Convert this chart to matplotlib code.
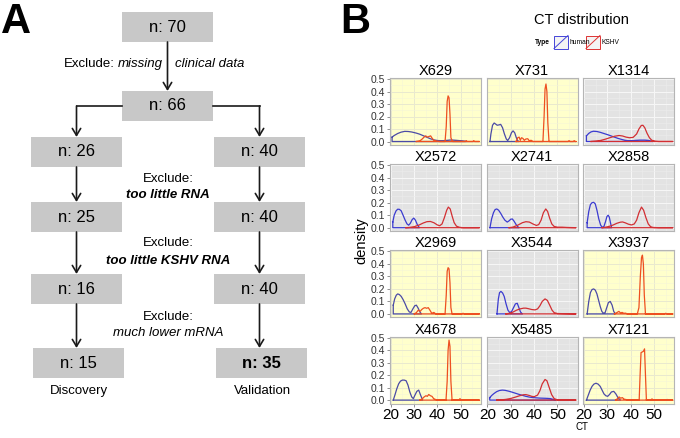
import numpy as np
import matplotlib
matplotlib.use("Agg")
import matplotlib.pyplot as plt
from matplotlib.patches import Rectangle

plt.rcParams['font.family'] = ['Liberation Sans', 'DejaVu Sans']

# ---- panel A data (sample counts) ----
top_n = [70, 66]
discovery_n = [26, 25, 16, 15]
validation_n = [40, 40, 40, 35]

# ---- panel B data: CT density per sample ----
samples = ["X629", "X731", "X1314",
           "X2572", "X2741", "X2858",
           "X2969", "X3544", "X3937",
           "X4678", "X5485", "X7121"]
highlighted = ["X629", "X731", "X2969", "X3937", "X4678", "X7121"]

human_ct = {
    "X629": [20.6, 21.5, 23, 24.5, 26, 27.5, 29, 31, 32.5, 34, 35.5, 37, 38.5, 40, 42, 44, 45.5, 47, 49, 51, 52.5],
    "X731": [21.1, 21.5, 22.2, 22.9, 23.5, 24.2, 25, 25.7, 26.5, 27.3, 28.1, 28.7, 29.5, 30.3, 31, 31.7, 32.4, 33, 33.5],
    "X1314": [21, 22, 23, 24, 25.5, 27, 28.5, 30, 31.5, 33, 34.5, 36, 37.5, 39, 40.5, 42, 44, 46, 47.5, 48.5, 49.5],
    "X2572": [20.9, 21.5, 22.3, 23, 23.7, 24.5, 25.3, 26.2, 27, 27.7, 28.4, 29.2, 29.9, 30.6, 31.4, 32.3],
    "X2741": [21.1, 21.8, 22.6, 23.3, 24, 24.8, 25.7, 26.6, 27.5, 28.5, 29.3, 30, 30.7, 31.5, 32.3, 33, 33.6],
    "X2858": [21.3, 22, 22.7, 23.4, 24.1, 24.8, 25.5, 26.3, 27.1, 27.8, 28.5, 29.2, 29.8, 30.3, 30.8, 31.3, 31.8],
    "X2969": [21.1, 21.7, 22.4, 23, 23.7, 24.5, 25.3, 26.2, 27.1, 28, 28.7, 29.5, 30.3, 31, 31.8, 32.5, 33.2],
    "X3544": [24.1, 24.7, 25.2, 25.8, 26.5, 27.2, 28, 28.8, 29.6, 30.4, 31.2, 32, 32.8, 33.5, 34.2, 35],
    "X3937": [21.3, 22, 22.7, 23.4, 24.1, 24.8, 25.5, 26.2, 26.9, 27.6, 28.3, 29, 29.7, 30.4, 31.2, 32, 32.7, 33.4],
    "X4678": [21.1, 21.8, 22.6, 23.4, 24.2, 25, 25.8, 26.6, 27.4, 28.2, 29, 29.7, 30.4, 31.2, 32, 32.8, 33.7],
    "X5485": [21, 22, 23, 24, 25.2, 26.4, 27.6, 29, 30.5, 32, 33.5, 35, 36.5, 38, 39.5, 41, 42.5, 44, 45.5, 47, 48.2, 49.3],
    "X7121": [21, 21.8, 22.6, 23.4, 24.2, 25.1, 26, 26.9, 27.7, 28.5, 29.3, 30.1, 30.9, 31.7, 32.7, 33.6, 34.5, 35.6],
}
human_dens = {
    "X629": [0.035, 0.048, 0.064, 0.075, 0.081, 0.08, 0.076, 0.067, 0.058, 0.046, 0.034, 0.022, 0.013, 0.008, 0.006, 0.009, 0.012, 0.011, 0.008, 0.004, 0],
    "X731": [0, 0.06, 0.13, 0.148, 0.14, 0.13, 0.133, 0.137, 0.11, 0.06, 0.02, 0.008, 0.03, 0.07, 0.085, 0.07, 0.03, 0.005, 0],
    "X1314": [0.045, 0.065, 0.077, 0.082, 0.08, 0.073, 0.064, 0.055, 0.045, 0.035, 0.025, 0.017, 0.01, 0.006, 0.006, 0.009, 0.011, 0.011, 0.009, 0.004, 0],
    "X2572": [0.045, 0.1, 0.135, 0.148, 0.147, 0.135, 0.1, 0.06, 0.03, 0.02, 0.035, 0.065, 0.077, 0.06, 0.025, 0],
    "X2741": [0, 0.07, 0.12, 0.145, 0.15, 0.14, 0.115, 0.085, 0.06, 0.045, 0.055, 0.068, 0.07, 0.05, 0.025, 0.008, 0],
    "X2858": [0.04, 0.13, 0.185, 0.2, 0.203, 0.19, 0.14, 0.07, 0.02, 0.003, 0.01, 0.05, 0.09, 0.1, 0.085, 0.04, 0],
    "X2969": [0.07, 0.12, 0.15, 0.16, 0.155, 0.14, 0.115, 0.08, 0.04, 0.015, 0.012, 0.04, 0.065, 0.07, 0.045, 0.015, 0],
    "X3544": [0, 0.12, 0.17, 0.18, 0.168, 0.14, 0.08, 0.03, 0.01, 0.02, 0.05, 0.08, 0.085, 0.05, 0.015, 0],
    "X3937": [0, 0.1, 0.17, 0.195, 0.2, 0.19, 0.16, 0.11, 0.06, 0.02, 0.005, 0.01, 0.05, 0.09, 0.1, 0.07, 0.02, 0],
    "X4678": [0, 0.04, 0.09, 0.13, 0.152, 0.16, 0.16, 0.155, 0.12, 0.065, 0.025, 0.012, 0.04, 0.07, 0.08, 0.04, 0],
    "X5485": [0.02, 0.04, 0.055, 0.068, 0.077, 0.08, 0.078, 0.072, 0.064, 0.055, 0.046, 0.038, 0.03, 0.024, 0.02, 0.018, 0.016, 0.015, 0.014, 0.012, 0.006, 0],
    "X7121": [0, 0.04, 0.08, 0.11, 0.128, 0.135, 0.128, 0.11, 0.08, 0.05, 0.035, 0.03, 0.045, 0.065, 0.07, 0.05, 0.02, 0],
}

kshv_ct = {
    "X629": [31, 32.5, 33.5, 34.3, 35, 35.7, 36.4, 37.1, 37.8, 38.5, 39.5, 41, 43.3, 43.8, 44.2, 44.6, 45, 45.4, 45.8, 46.5, 52, 52.4, 52.8, 55.2, 55.6, 56, 58],
    "X731": [32.3, 33, 33.6, 34.1, 34.6, 35.2, 35.8, 36.5, 37.3, 38, 38.7, 39.5, 43.8, 44.3, 44.7, 45.1, 45.5, 45.9, 46.4, 54.5, 55, 55.5, 56.8, 57.2, 57.6, 58],
    "X1314": [23, 25, 27, 29, 31, 33, 35, 36.5, 38, 39.5, 41, 42.5, 43.5, 44.5, 45.2, 46, 47, 48, 49, 50.5, 52, 58],
    "X2572": [26.5, 28, 30, 32, 34, 35.5, 37, 38.5, 40, 41, 42, 43, 44, 44.7, 45.5, 46.3, 47.2, 48.2, 49.5, 51, 58],
    "X2741": [29.3, 31, 33, 35, 36.5, 38, 39.5, 41, 42, 43, 44, 45, 45.8, 46.7, 47.6, 48.6, 50, 52, 54, 56, 58],
    "X2858": [27.7, 29.5, 31, 32.5, 34, 35.5, 36.5, 37.5, 39, 40.3, 41.5, 42.5, 43.5, 44.6, 45.5, 46.5, 47.5, 48.5, 49.5, 52, 58],
    "X2969": [30.1, 31, 31.8, 32.6, 33.3, 34, 34.7, 35.4, 36.1, 36.8, 37.6, 38.5, 39.3, 40, 43.3, 43.8, 44.2, 44.6, 45, 45.4, 45.8, 46.3, 50.5, 51, 51.5, 58],
    "X3544": [27.9, 29.5, 31, 32.5, 34, 35.5, 36.5, 37.5, 39, 40.4, 41.5, 42.5, 43.5, 44.7, 45.7, 46.7, 47.7, 48.6, 50, 52, 55, 58],
    "X3937": [33, 34, 34.9, 35.6, 36.3, 37, 37.8, 38.5, 39.5, 42.8, 43.5, 44.1, 44.6, 45, 45.4, 45.8, 46.3, 54.5, 55, 55.5, 58],
    "X4678": [32.5, 33.5, 34.3, 35.1, 35.7, 36.3, 37, 37.7, 38.4, 39.2, 40, 43.7, 44.2, 44.6, 45, 45.4, 45.8, 46.3, 49.3, 49.7, 50.1, 58],
    "X5485": [24, 26, 28, 30, 32, 34, 35.5, 36.5, 38, 39, 40, 41.5, 42.5, 43.5, 44.7, 45.5, 46.5, 47.5, 48.6, 50, 58],
    "X7121": [33.5, 34.2, 35, 35.7, 36.4, 37.1, 37.8, 38.5, 39.5, 43.6, 44, 44.4, 44.9, 45.4, 45.9, 46.3, 46.7, 48.7, 49.1, 49.5, 55.2, 55.6, 56, 58],
}
kshv_dens = {
    "X629": [0, 0.005, 0.02, 0.035, 0.045, 0.035, 0.04, 0.045, 0.025, 0.01, 0.003, 0, 0, 0.12, 0.32, 0.365, 0.35, 0.22, 0.03, 0, 0, 0.006, 0, 0, 0.006, 0, 0],
    "X731": [0, 0.03, 0.035, 0.01, 0.03, 0.025, 0.01, 0.02, 0.022, 0.005, 0.01, 0, 0, 0.2, 0.42, 0.46, 0.4, 0.15, 0, 0, 0.006, 0, 0, 0.006, 0, 0],
    "X1314": [0, 0.003, 0.008, 0.018, 0.03, 0.042, 0.048, 0.044, 0.035, 0.03, 0.033, 0.06, 0.1, 0.128, 0.13, 0.11, 0.065, 0.03, 0.01, 0.002, 0, 0],
    "X2572": [0, 0.002, 0.008, 0.02, 0.038, 0.048, 0.05, 0.04, 0.022, 0.016, 0.03, 0.08, 0.14, 0.165, 0.15, 0.095, 0.04, 0.012, 0.003, 0, 0],
    "X2741": [0, 0.005, 0.02, 0.04, 0.048, 0.045, 0.03, 0.018, 0.025, 0.06, 0.12, 0.15, 0.13, 0.075, 0.03, 0.01, 0.004, 0.004, 0.002, 0.001, 0],
    "X2858": [0, 0.005, 0.012, 0.022, 0.035, 0.044, 0.046, 0.04, 0.028, 0.022, 0.03, 0.06, 0.12, 0.165, 0.14, 0.08, 0.03, 0.008, 0.002, 0, 0],
    "X2969": [0, 0.01, 0.03, 0.02, 0.035, 0.045, 0.05, 0.045, 0.05, 0.03, 0.005, 0.012, 0, 0, 0, 0.15, 0.34, 0.37, 0.36, 0.25, 0.05, 0, 0, 0.005, 0, 0],
    "X3544": [0, 0.005, 0.015, 0.03, 0.04, 0.046, 0.046, 0.042, 0.035, 0.032, 0.04, 0.065, 0.1, 0.12, 0.108, 0.07, 0.03, 0.01, 0.003, 0.002, 0.001, 0],
    "X3937": [0, 0.01, 0.02, 0.008, 0.012, 0.005, 0.006, 0, 0, 0, 0.05, 0.3, 0.45, 0.47, 0.4, 0.15, 0, 0, 0.005, 0, 0],
    "X4678": [0, 0.01, 0.025, 0.035, 0.03, 0.045, 0.035, 0.03, 0.012, 0.005, 0, 0, 0.15, 0.4, 0.48, 0.43, 0.15, 0, 0, 0.012, 0, 0],
    "X5485": [0, 0.002, 0.006, 0.013, 0.024, 0.036, 0.043, 0.044, 0.037, 0.03, 0.027, 0.04, 0.075, 0.13, 0.165, 0.155, 0.1, 0.045, 0.012, 0.002, 0],
    "X7121": [0, 0.01, 0.025, 0.015, 0.02, 0.008, 0.005, 0.003, 0, 0, 0.2, 0.38, 0.385, 0.39, 0.41, 0.2, 0, 0, 0.01, 0, 0, 0.005, 0, 0],
}

W, H = 680, 438
fig = plt.figure(figsize=(W / 100, H / 100), dpi=100)


def px_axes(left, top, width, height):
    return fig.add_axes([left / W, 1 - (top + height) / H, width / W, height / H])


# overlay for the flowchart and free text, in pixel coordinates
ov = px_axes(0, 0, W, H)
ov.set_xlim(0, W)
ov.set_ylim(H, 0)
ov.axis("off")

ov.text(1, 22, "A", fontsize=30, fontweight="bold", va="center", ha="left")
ov.text(340, 22, "B", fontsize=30, fontweight="bold", va="center", ha="left")

box_col = "#C8C8C8"
arrow_kw = dict(arrowstyle="->,head_length=0.5,head_width=0.3", lw=1.2,
                color="#1a1a1a", shrinkA=0, shrinkB=0)


def box(cx, top, text, bold=False):
    ov.add_patch(Rectangle((cx - 45.5, top), 91, 30, facecolor=box_col, edgecolor="none"))
    ov.text(cx, top + 15, text, fontsize=12, ha="center", va="center",
            fontweight="bold" if bold else "normal")


def arrow(x0, y0, x1, y1):
    ov.annotate("", xy=(x1, y1), xytext=(x0, y0), arrowprops=arrow_kw)


box(167.5, 12, f"n: {top_n[0]}")
box(167.5, 91, f"n: {top_n[1]}")
arrow(167.5, 42, 167.5, 91)
ov.text(64, 64, "Exclude:", fontsize=9.5, ha="left", va="center")
ov.text(163, 64, "missing", fontsize=9.5, style="italic", ha="right", va="center")
ov.text(175, 64, "clinical data", fontsize=9.5, style="italic", ha="left", va="center")

lx, rx = 76.5, 259.5
ov.plot([122, lx], [106, 106], color="#1a1a1a", lw=1.2)
ov.plot([213, rx], [106, 106], color="#1a1a1a", lw=1.2)
arrow(lx, 106, lx, 137)
arrow(rx, 106, rx, 137)

row_tops = [137, 202, 274, 348]
for i, (dn, vn) in enumerate(zip(discovery_n, validation_n)):
    shift = 2 if i == 3 else 0
    box(lx + shift, row_tops[i], f"n: {dn}")
    box(rx + shift, row_tops[i], f"n: {vn}", bold=(i == 3))
    if i < 3:
        arrow(lx, row_tops[i] + 30, lx, row_tops[i + 1])
        arrow(rx, row_tops[i] + 30, rx, row_tops[i + 1])

ov.text(168, 179, "Exclude:", fontsize=9.5, ha="center", va="center")
ov.text(168, 195, "too little RNA", fontsize=9.5, ha="center", va="center",
        style="italic", fontweight="bold")
ov.text(168, 243, "Exclude:", fontsize=9.5, ha="center", va="center")
ov.text(168, 261, "too little KSHV RNA", fontsize=9.5, ha="center", va="center",
        style="italic", fontweight="bold")
ov.text(168, 317, "Exclude:", fontsize=9.5, ha="center", va="center")
ov.text(168, 333, "much lower mRNA", fontsize=9.5, ha="center", va="center", style="italic")
ov.text(79, 391, "Discovery", fontsize=9.5, ha="center", va="center")
ov.text(263, 391, "Validation", fontsize=9.5, ha="center", va="center")

# title and legend of panel B
ov.text(581, 20, "CT distribution", fontsize=10.5, ha="center", va="center")
ov.text(550, 42, "Type", fontsize=4.8, fontweight="bold", ha="right", va="center")
for x0, col, lab in [(554, "#4545D8", "human"), (586, "#DD3333", "KSHV")]:
    ov.add_patch(Rectangle((x0, 35.5), 14, 13, facecolor="#F4F4F4", edgecolor=col, lw=0.7))
    ov.plot([x0, x0 + 14], [48.5, 35.5], color=col, lw=0.7)
    ov.text(x0 + 15.5, 42, lab, fontsize=4.8, ha="left", va="center")

ov.text(361, 241, "density", fontsize=10.5, rotation=90, ha="center", va="center")
ov.text(582, 427, "CT", fontsize=7, ha="center", va="center")

# facet panels
xlim = (19.7, 58.7)
ylim = (-0.028, 0.508)
for idx, name in enumerate(samples):
    r, c = divmod(idx, 3)
    left = 390 + 96.7 * c
    top = 78 + 86.2 * r
    ax = px_axes(left, top, 91, 67)
    hl = name in highlighted
    if hl:
        bg, gmaj, gmin = "#FFFFCC", "#E9E9CF", "#F5F5D8"
        col_h, col_k = "#4B4BA6", "#EE5020"
    else:
        bg, gmaj, gmin = "#E3E3E3", "#F7F7F7", "#EDEDED"
        col_h, col_k = "#3B3BD0", "#D22F33"
    ax.set_facecolor(bg)
    ax.set_xlim(*xlim)
    ax.set_ylim(*ylim)
    ax.set_xticks([20, 30, 40, 50])
    ax.set_xticks([25, 35, 45, 55], minor=True)
    ax.set_yticks([0, 0.1, 0.2, 0.3, 0.4, 0.5])
    ax.set_yticks([0.05, 0.15, 0.25, 0.35, 0.45], minor=True)
    ax.grid(True, which="major", color=gmaj, lw=0.7)
    ax.grid(True, which="minor", color=gmin, lw=0.4)
    ax.set_axisbelow(True)
    for s in ax.spines.values():
        s.set_color("#B5B5B5")
        s.set_linewidth(0.8)

    for cts, ds, colr in [(human_ct[name], human_dens[name], col_h),
                          (kshv_ct[name], kshv_dens[name], col_k)]:
        cts = np.asarray(cts)
        ds = np.asarray(ds)
        xs = np.r_[cts, cts[-1], cts[0], cts[0]]
        ys = np.r_[ds, 0, 0, ds[0]]
        ax.plot(xs, ys, color=colr, lw=0.9, solid_joinstyle="round")

    ax.tick_params(which="minor", length=0)
    if c == 0:
        ax.tick_params(axis="y", length=2.5, width=0.6, color="#7F7F7F",
                       labelsize=7.5, labelcolor="#333333", pad=1)
        ax.set_yticklabels(["0.0", "0.1", "0.2", "0.3", "0.4", "0.5"])
    else:
        ax.tick_params(axis="y", length=0, labelleft=False)
    if r == 3:
        ax.tick_params(axis="x", length=2.5, width=0.6, color="#7F7F7F",
                       labelsize=11, labelcolor="black", pad=1)
    else:
        ax.tick_params(axis="x", length=0, labelbottom=False)
    ax.set_title(name, fontsize=10.5, pad=1.5)

fig.savefig("out.png", dpi=100)
